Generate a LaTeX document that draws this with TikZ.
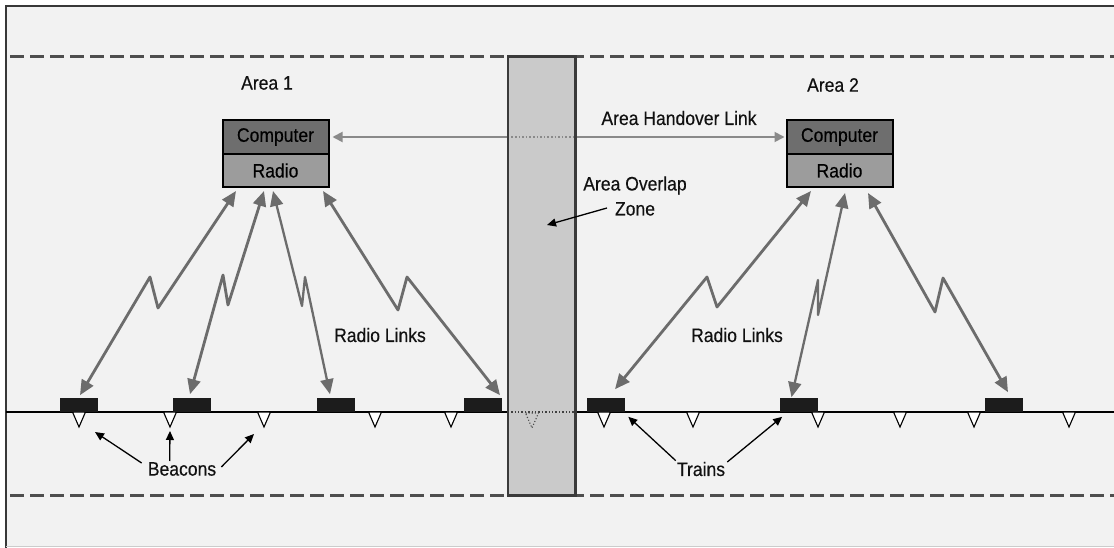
\documentclass[tikz,border=0pt]{standalone}
\usepackage{fontspec}
\setmainfont{Liberation Sans}[FakeStretch=0.9,FakeBold=0.35]
\usetikzlibrary{arrows.meta,calc}
\definecolor{bgc}{HTML}{F2F2F2}
\definecolor{framec}{HTML}{383838}
\definecolor{dashc}{HTML}{4E4E4E}
\definecolor{zonef}{HTML}{CACACA}
\definecolor{zoneb}{HTML}{3A3A3A}
\definecolor{compc}{HTML}{6E6E6E}
\definecolor{radioc}{HTML}{9C9C9C}
\definecolor{linkc}{HTML}{6C6C6C}
\definecolor{trainc}{HTML}{1C1C1C}
\definecolor{hoc}{HTML}{8A8A8A}
\definecolor{txtc}{HTML}{111111}
\tikzset{
  beacon/.pic={
    \draw[fill=white,draw=black,line width=1.1pt,line join=miter] (-6.5,0) -- (6.5,0) -- (0,15) -- cycle;
    \coordinate (-tip) at (0,15);
  },
  ghostbeacon/.pic={
    \draw[draw=black!70,line width=1.1pt,dotted] (-6.5,0) -- (6.5,0) -- (0,15) -- cycle;
  }
}
\begin{document}
\begin{tikzpicture}[x=1pt,y=-1pt,
  lbl/.style={font=\fontsize{19.5}{25}\selectfont, text=txtc, inner sep=1pt},
  comp/.style={draw=black, line width=2pt, fill=compc, minimum width=106pt, minimum height=34pt,
    inner sep=0pt, font=\fontsize{19.5}{20}\selectfont, text=black},
  radiobox/.style={comp, fill=radioc, minimum height=33pt},
  train/.style={fill=trainc, draw=trainc, line width=0.6pt, minimum width=37pt, minimum height=13pt, inner sep=0pt},
  link/.style={draw=linkc, line width=2.8pt, line join=round,
    {Triangle[length=15pt,width=13pt]}-{Triangle[length=15pt,width=13pt]}},
  handover/.style={draw=hoc, line width=1.8pt,
    {Triangle[length=10pt,width=10pt]}-{Triangle[length=10pt,width=10pt]}},
  pointer/.style={draw=black, line width=1.3pt, -{Triangle[length=9pt,width=8pt]}},
  dashline/.style={draw=dashc, line width=3pt, dash pattern=on 14pt off 6pt},
  zonefill/.style={fill=zonef, minimum width=67pt, minimum height=438pt, inner sep=0pt},
  zoneborder/.style={draw=zoneb, line width=2.6pt},
  track/.style={draw=black, line width=1.8pt},
  zonedots/.style={draw=black!75, line width=1.4pt, dotted}
]
\useasboundingbox (0,0) rectangle (1114,548);
% background and frame
\fill[white] (0,0) rectangle (1114,548);
\fill[bgc] (6,6) rectangle (1114,546);
\draw[framec, line width=2.5pt] (6,548) -- (6,6) -- (1114,6);
\draw[black!20, line width=1pt] (6,546) -- (1114,546);
% dashed boundaries
\draw[dashline] (10,57) -- (1114,57);
\draw[dashline] (10,495) -- (1114,495);
% track
\coordinate (trackL) at (6,412);
\coordinate (trackR) at (1114,412);
\draw[track] (trackL) -- (trackR);
% area computers
\node[comp] (c1) at (275.5,137) {Computer};
\node[radiobox] (r1) at (275.5,170.5) {Radio};
\node[comp] (c2) at (839.5,137) {Computer};
\node[radiobox] (r2) at (839.5,170.5) {Radio};
% handover link
\draw[handover] ([xshift=3pt]c1.east) -- ([xshift=-1pt]c2.west);
% overlap zone
\node[zonefill] (zone) at (541.5,276) {};
\draw[zonedots] (zone.west |- trackL) -- (zone.east |- trackL);
\draw[draw=hoc, line width=1.6pt, dotted] (zone.west |- c1.east) -- (zone.east |- c1.east);
\pic at (532,413) {ghostbeacon};
\draw[zoneborder] (zone.north west) rectangle (zone.south east);
% beacons
\pic (b1) at (79,412) {beacon};
\pic (b2) at (170,412) {beacon};
\pic (b3) at (264,412) {beacon};
\pic (b4) at (375,412) {beacon};
\pic (b5) at (451,412) {beacon};
\pic (b6) at (604,412) {beacon};
\pic (b7) at (693,412) {beacon};
\pic (b8) at (818,412) {beacon};
\pic (b9) at (900,412) {beacon};
\pic (b10) at (974,412) {beacon};
\pic (b11) at (1069,412) {beacon};
% trains
\node[train] (t1) at (79,405) {};
\node[train] (t2) at (191.5,405) {};
\node[train] (t3) at (336,405) {};
\node[train] (t4) at (483,405) {};
\node[train] (t5) at (605.5,405) {};
\node[train] (t6) at (799,405) {};
\node[train] (t7) at (1003.5,405) {};
% radio links
\draw[link] ($(r1.south)+(-39.5,3)$) -- (158,308) -- (150,277) -- ($(t1.north)+(1,-3)$);
\draw[link] ($(r1.south)+(-11.5,3)$) -- (228,305) -- (223,275) -- ($(t2.north)+(-1.5,-4)$);
\draw[link, line width=2.3pt] ($(r1.south)+(-2.5,3)$) -- (302,306) -- (305,277) -- ($(t3.north)+(-6,-4)$);
\draw[link] ($(r1.south)+(47.5,3)$) -- (398,310) -- (407,277) -- ($(t4.north)+(17,-3)$);
\draw[link] ($(r2.south)+(-28.5,3)$) -- (717,307) -- (707,277) -- ($(t5.north)+(9.5,-9)$);
\draw[link, line width=2.3pt] ($(r2.south)+(5.5,5)$) -- (818,315) -- (818,280) -- ($(t6.north)+(-7.5,-1)$);
\draw[link] ($(r2.south)+(28.5,5)$) -- (935,312) -- (943,278) -- ($(t7.north)+(4.5,-6)$);
% labels
\node[lbl] (a1) at (267,83) {Area 1};
\node[lbl] (a2) at (833,85) {Area 2};
\node[lbl] (hol) at (679,118) {Area Handover Link};
\node[lbl, align=center] (ovl) at (635,196) {Area Overlap\\Zone};
\node[lbl] (rl1) at (380,335) {Radio Links};
\node[lbl] (rl2) at (737,335) {Radio Links};
\node[lbl] (bl) at (182,469) {Beacons};
\node[lbl] (tl) at (701,469) {Trains};
% pointers
\draw[pointer] ($(ovl.center)+(-28,12)$) -- ($(zone.center)+(5.5,-51)$);
\draw[pointer] ($(bl.north west)+(-5,2)$) -- ($(b1-tip)+(16,5)$);
\draw[pointer] ($(bl.north west)+(23,0)$) -- ($(b2-tip)+(0,4)$);
\draw[pointer] ($(bl.east)+(4,-2)$) -- ($(b3-tip)+(-10,7)$);
\draw[pointer] ($(tl.north west)+(0,0)$) -- ($(t5.south east)+(4,5)$);
\draw[pointer] ($(tl.east)+(1,-7)$) -- ($(t6.south west)+(2,5)$);
\end{tikzpicture}
\end{document}
